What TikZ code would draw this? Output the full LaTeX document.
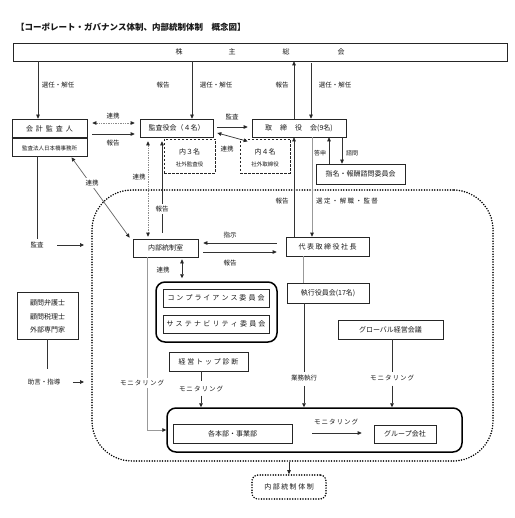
\documentclass[tikz,border=0pt]{standalone}
\usepackage{fontspec}
\setmainfont{Noto Sans CJK JP}
\usetikzlibrary{arrows.meta}
\makeatletter
\newcommand\spc[2]{\def\spc@k{#1}\spc@i#2\relax}
\def\spc@i#1#2{#1\ifx#2\relax\else\kern\spc@k\relax\expandafter\spc@i\expandafter#2\fi}
\makeatother
\tikzset{
 tip/.tip={Triangle[length=4pt,width=3.6pt,color=black!85]},
 box/.style={draw=black!85, line width=0.7pt, inner sep=0pt, font=\fontsize{7}{8}\selectfont, text=black!90},
 dbox/.style={box, dash pattern=on 2.5pt off 1.5pt},
 plain/.style={inner sep=0pt, font=\fontsize{7}{8}\selectfont, text=black!90},
 lab/.style={font=\fontsize{6.5}{7}\selectfont, inner sep=0.5pt, text=black!90},
 slab/.style={font=\fontsize{6}{7}\selectfont, inner sep=0.5pt, text=black!90},
 small/.style={font=\fontsize{5.5}{6}\selectfont, inner sep=0pt, text=black!90},
 titlest/.style={font=\fontsize{8.5}{9}\selectfont\bfseries, inner sep=0pt, text=black!90},
 ln/.style={draw=black!80, line width=0.7pt},
 gln/.style={draw=black!40, line width=0.7pt},
 arr/.style={ln, -tip},
 garr/.style={gln, -tip},
 darr/.style={ln, tip-tip},
 lk/.style={draw=black!45, line width=0.7pt, dash pattern=on 1.5pt off 0.9pt, tip-tip},
 grp/.style={draw=black, line width=1.5pt, rounded corners=9pt, inner sep=0pt},
 dots/.style={draw=black, line width=1.7pt, dash pattern=on 0pt off 2.6pt, line cap=round, inner sep=0pt},
}
\begin{document}
\begin{tikzpicture}[x=1pt,y=-1pt]
\useasboundingbox[fill=white] (0,0) rectangle (514,518);
% outer dotted frame
\node[dots, rounded corners=40pt, minimum width=401, minimum height=271] (outer) at (292.5,325.5) {};
% title
\node[titlest, anchor=west] (title) at (16,27) {【コーポレート・ガバナンス体制、内部統制体制　概念図】};
% top
\node[box, minimum width=494, minimum height=18] (top) at (260,52) {株\hspace{46pt}主\hspace{47pt}総\hspace{48pt}会};
% kaikei
\node[box, minimum width=75, minimum height=37] (kaikei) at (49.5,137.5) {};
\draw[line width=1.3pt, black!85] (kaikei.west |- 0,138) -- (kaikei.east |- 0,138);
\node[plain] (kaikeiT) at (49.5,129) {\spc{3pt}{会計監査人}};
\node[small] (kaikeiS) at (49.5,148) {監査法人日本橋事務所};
% kansa, torishimari
\node[box, minimum width=73, minimum height=18] (kansa) at (176.5,128) {監査役会（４名）};
\node[box, minimum width=94, minimum height=18] (tori) at (299,128) {取\kern8pt 締\kern8pt 役\kern8pt 会(9名)};
\node[dbox, minimum width=51, minimum height=34] (uchi3) at (189.5,156) {};
\node[plain] (uchi3a) at (189.5,151.5) {内３名};
\node[small] (uchi3b) at (189.5,164) {社外監査役};
\node[dbox, minimum width=50, minimum height=34] (uchi4) at (265,156) {};
\node[plain] (uchi4a) at (265,151.5) {内４名};
\node[small] (uchi4b) at (265,164) {社外取締役};
\node[box, minimum width=89, minimum height=20] (shimei) at (360.5,174) {指名・報酬諮問委員会};
% middle
\node[box, minimum width=65, minimum height=18] (naibu) at (165.5,248) {内部統制室};
\node[box, minimum width=83, minimum height=19] (daihyo) at (327.5,246.5) {\spc{1.5pt}{代表取締役社長}};
\node[grp, minimum width=121, minimum height=60] (cgrp) at (216.5,312) {};
\node[box, minimum width=106, minimum height=18] (comp) at (216,298) {\spc{2pt}{コンプライアンス委員会}};
\node[box, minimum width=106, minimum height=18] (sus) at (216,324) {\spc{2.2pt}{サステナビリティ委員会}};
\node[box, minimum width=82, minimum height=20] (shikko) at (328,293) {執行役員会(17名)};
\node[box, minimum width=105, minimum height=19] (global) at (390.5,329.5) {グローバル経営会議};
\node[box, minimum width=79, minimum height=19] (diag) at (208.5,361.5) {\spc{1.8pt}{経営トップ診断}};
% komon
\node[box, minimum width=61, minimum height=47] (komon) at (47.5,315.5) {};
\node[plain] (komon1) at (47.5,303) {顧問弁護士};
\node[plain] (komon2) at (47.5,316.5) {顧問税理士};
\node[plain] (komon3) at (47.5,330) {外部専門家};
% bottom group
\node[grp, minimum width=295, minimum height=44] (big) at (314.5,430) {};
\node[box, minimum width=119, minimum height=19] (honbu) at (232.5,433.5) {各本部・事業部};
\node[box, minimum width=62, minimum height=18] (group) at (405,434) {グループ会社};
\node[dots, rounded corners=6pt, minimum width=74, minimum height=24, font=\fontsize{7}{8}\selectfont, text=black!90] (ntai) at (289,487) {\spc{1.5pt}{内部統制体制}};

% ---- connectors ----
\draw[arr] (top.south -| 38,0) -- (kaikei.north -| 38,0);
\node[lab] (L1) at (58,85) {選任・解任};
\node[lab] (L2) at (163,85) {報告};
\draw[arr] (top.south -| 192,0) -- (kansa.north -| 192,0);
\node[lab] (L3) at (216,85) {選任・解任};
\draw[arr] (tori.north -| 294,0) -- (top.south -| 294,0);
\node[lab] (L4) at (282,85) {報告};
\draw[arr, shorten <=2pt] (top.south -| 311,0) -- (tori.north -| 311,0);
\node[lab] (L5) at (335,85) {選任・解任};

\draw[lk, shorten <=5pt, shorten >=5pt] (kaikei.east |- 0,123) -- (kansa.west |- 0,123);
\node[lab] (L6) at (113,116) {連携};
\draw[arr, shorten <=5pt, shorten >=5pt] (kaikei.east |- 0,134) -- (kansa.west |- 0,134);
\node[lab] (L7) at (113,143) {報告};

\draw[arr, shorten <=4pt, shorten >=4pt] (kansa.east |- 0,127) -- (tori.west |- 0,127);
\node[lab] (L8) at (232,117) {監査};
\draw[darr] ([shift={(4,5)}]kansa.east) -- ([shift={(-4,4)}]tori.south west);
\node[lab] (L9) at (227,149) {連携};

\draw[lk, shorten <=4pt, shorten >=2pt] (kansa.south -| 148,0) -- (naibu.north -| 148,0);
\node[lab] (L10) at (139,177) {連携};
\draw[arr, shorten <=6pt, shorten >=4pt] (naibu.north -| 162,0) -- (kansa.south -| 162,0);
\node[lab, fill=white, inner sep=2pt] (L11) at (162,209) {報告};

\draw[darr, draw=black!60] ([shift={(22,1)}]kaikei.south) -- ([shift={(-3,-1)}]naibu.north west);
\node[lab, fill=white, inner sep=2pt] (L12) at (92,183) {連携};

\node[lab] (L13) at (37,245) {監査};
\draw[ln, shorten >=2pt] (kaikei.south -| L13.north) -- (L13.north);
\coordinate (c13) at (84,245);
\draw[arr] ([shift={(13,0)}]L13.east) -- (c13);

\node[lab] (L14) at (44,382) {助言・指導};
\draw[ln, shorten >=9pt] (komon.south) -- (komon.south |- L14.north);
\coordinate (c14) at (84,382);
\draw[arr] ([shift={(12,0)}]L14.east) -- (c14);

\draw[arr] (daihyo.north -| 294,0) -- (tori.south -| 294,0);
\node[lab] (L15) at (282,201) {報告};
\draw[garr] (tori.south -| 312,0) -- (daihyo.north -| 312,0);
\node[lab] (L16) at (347,201) {\spc{1.4pt}{選定・解職・監督}};

\draw[arr] (shimei.north -| 329,0) -- (tori.south -| 329,0);
\node[slab] (L17) at (320,153) {答申};
\draw[arr] (tori.south -| 342,0) -- (shimei.north -| 342,0);
\node[slab] (L18) at (352,153) {諮問};

\draw[arr, shorten <=9pt, shorten >=5pt] (daihyo.west |- 0,243) -- (naibu.east |- 0,243);
\node[lab] (L19) at (230,235) {指示};
\draw[arr, shorten <=5pt, shorten >=9pt] (naibu.east |- 0,252) -- (daihyo.west |- 0,252);
\node[lab] (L20) at (230,263) {報告};

\draw[darr, shorten <=2pt, shorten >=3pt] (naibu.south -| 182,0) -- (cgrp.north -| 182,0);
\node[lab] (L21) at (163,270) {連携};

\draw[gln] (daihyo.south -| 303,0) -- (shikko.north -| 303,0);

\node[lab] (L22) at (304,378) {業務執行};
\draw[ln, shorten >=2pt] (shikko.south -| 304,0) -- (L22.north);
\draw[arr, shorten <=4pt] (L22.south) -- (big.north -| L22.south);

\node[lab] (L23) at (392,378) {\spc{1pt}{モニタリング}};
\draw[ln, shorten >=2pt] (global.south -| 392,0) -- (L23.north);
\draw[arr, shorten <=4pt] (L23.south) -- (big.north -| L23.south);

\node[lab] (L24) at (201,389) {\spc{1pt}{モニタリング}};
\draw[ln, shorten >=4pt] (diag.south -| 201,0) -- (L24.north);
\draw[arr, shorten <=3pt] (L24.south) -- (big.north -| L24.south);

\draw[garr] (naibu.south -| 147,0) |- (big.west);
\node[lab, fill=white, inner sep=2pt] (L25) at (142,383) {\spc{1pt}{モニタリング}};

\draw[arr, shorten <=20pt, shorten >=12pt] (honbu.east |- 0,433) -- (group.west |- 0,433);
\node[lab] (L26) at (336,422) {\spc{1pt}{モニタリング}};

\draw[arr] (outer.south -| ntai.north) -- (ntai.north);
\end{tikzpicture}
\end{document}
